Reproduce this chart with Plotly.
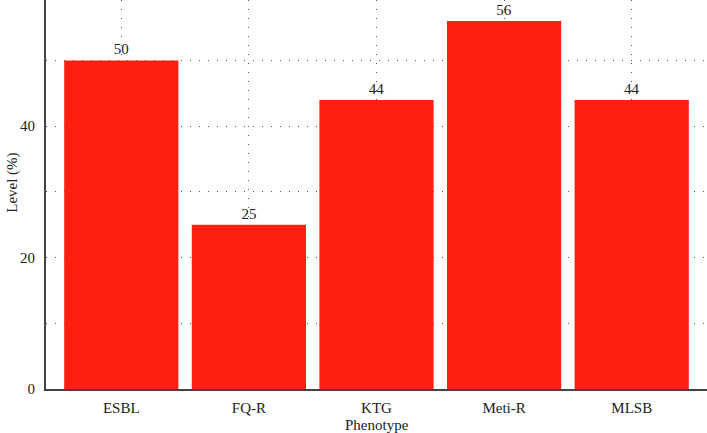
import plotly.graph_objects as go

# Phenotype levels
phenotypes = ["ESBL", "FQ-R", "KTG", "Meti-R", "MLSB"]
levels = [50, 25, 44, 56, 44]

y_ticks = [0, 10, 20, 30, 40, 50]
y_tick_text = ["0", "", "20", "", "40", ""]

serif = "Liberation Serif, Times New Roman, serif"

fig = go.Figure()

fig.add_trace(go.Bar(
    x=phenotypes,
    y=levels,
    marker=dict(color="#FF2012", line=dict(width=0)),
    text=[str(v) for v in levels],
    textposition="outside",
    textfont=dict(family=serif, size=15, color="#222"),
    cliponaxis=False,
    showlegend=False,
))

fig.update_layout(
    width=707,
    height=433,
    margin=dict(l=46, r=0, t=0, b=44),
    bargap=0.105,
    plot_bgcolor="white",
    paper_bgcolor="white",
    font=dict(family=serif, size=15, color="#222"),
    xaxis=dict(
        range=[-0.59, 4.59],
        automargin=False,
        showline=True,
        linecolor="#444",
        linewidth=2,
        showgrid=True,
        gridcolor="#555",
        gridwidth=1,
        griddash="1px,8px",
        zeroline=False,
        ticks="",
        ticklabelstandoff=4,
    ),
    yaxis=dict(
        range=[0, 59.2],
        automargin=False,
        showline=True,
        linecolor="#444",
        linewidth=2,
        showgrid=True,
        gridcolor="#555",
        gridwidth=1,
        griddash="1px,8px",
        zeroline=False,
        tickvals=y_ticks,
        ticktext=y_tick_text,
        ticks="",
        ticklabelstandoff=6,
    ),
)

# axis titles placed by hand so the cropped-looking margins stay fixed
fig.add_annotation(text="Phenotype", xref="paper", yref="paper",
                   x=0.5, y=-0.092, xanchor="center", yanchor="middle",
                   showarrow=False, font=dict(size=15))
fig.add_annotation(text="Level (%)", xref="paper", yref="paper",
                   x=-0.05, y=0.53, xanchor="center", yanchor="middle",
                   textangle=-90, showarrow=False, font=dict(size=15))

# the page body has an 8px default margin; drop it so the chart fills the window
fig.write_html("out.html", config={"displayModeBar": False},
               post_script="document.body.style.margin='0';")
